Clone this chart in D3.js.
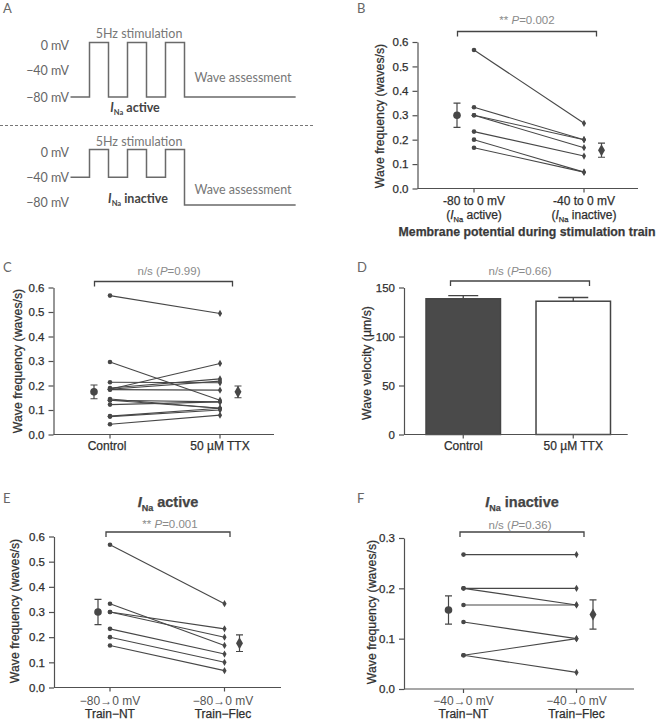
<!DOCTYPE html>
<html><head><meta charset="utf-8">
<script src="https://cdn.jsdelivr.net/npm/d3@7"></script>
<style>body{margin:0;background:#fff}</style>
</head><body>
<script>
// ---------- DATA ----------
// Panel A: voltage protocol (time steps, mV)
const protoTime = [0, 1, 2, 3, 4, 5, 6, 11.85];
const protoActive = [-80, 0, -80, 0, -80, 0, -80, -80];
const protoInactive = [-40, 0, -40, 0, -40, 0, -80, -80];
const protoLevels = [0, -40, -80];
const protoLevelLabels = ["0 mV", "\u221240 mV", "\u221280 mV"];

// Panel B
const B_before = [0.567, 0.333, 0.300, 0.300, 0.233, 0.200, 0.167];
const B_after  = [0.267, 0.200, 0.200, 0.167, 0.133, 0.067, 0.067];
const B_mean = [0.300, 0.157];
const B_sem  = [0.050, 0.029];

// Panel C
const C_control = [0.567, 0.296, 0.213, 0.185, 0.190, 0.185, 0.183, 0.145, 0.140, 0.140, 0.122, 0.075, 0.073, 0.042];
const C_ttx     = [0.494, 0.140, 0.211, 0.290, 0.227, 0.218, 0.181, 0.107, 0.107, 0.133, 0.133, 0.107, 0.100, 0.079];
const C_mean = [0.174, 0.174];
const C_sem  = [0.028, 0.024];

// Panel D
const D_categories = ["Control", "50 \u00b5M TTX"];
const D_mean = [138.5, 136.0];
const D_sem  = [3.3, 3.8];

// Panel E
const E_before = [0.567, 0.333, 0.300, 0.300, 0.233, 0.200, 0.167];
const E_after  = [0.333, 0.167, 0.233, 0.200, 0.133, 0.100, 0.067];
const E_mean = [0.300, 0.176];
const E_sem  = [0.050, 0.033];

// Panel F
const F_before = [0.267, 0.200, 0.200, 0.167, 0.133, 0.067, 0.067];
const F_after  = [0.267, 0.200, 0.167, 0.167, 0.100, 0.100, 0.033];
const F_mean = [0.157, 0.148];
const F_sem  = [0.028, 0.029];

const freqTicks6 = [0, 0.1, 0.2, 0.3, 0.4, 0.5, 0.6];
const freqTicks3 = [0, 0.1, 0.2, 0.3];
const velTicks = [0, 50, 100, 150];

// ---------- STYLE ----------
const FONT = "'Liberation Sans', Arial, sans-serif";
const AFONT = "Lato, 'Open Sans', sans-serif";
const INK = "#474747";
const AX = "#505050";
const TXT = "#2e2e2e";
const PGRAY = "#8a8a8a";
const TS = 0.25; // slight text stroke for weight

const svg = d3.select("body").append("svg").attr("width", 657).attr("height", 720)
  .style("font-family", FONT);

function heavy(sel, col) {
  return sel.attr("stroke", col).attr("stroke-width", TS);
}

function letter(t, x, y) {
  svg.append("text").attr("x", x).attr("y", y).text(t)
    .attr("font-family", AFONT).attr("font-size", 13).attr("fill", "#666");
}

// helper: text with I_Na
function inaText(sel, pre, post, size, sub) {
  if (pre) sel.append("tspan").text(pre);
  sel.append("tspan").text("I").attr("font-style", "italic");
  sel.append("tspan").text("Na").attr("font-size", sub).attr("dy", size * 0.25);
  sel.append("tspan").text(post).attr("dy", -size * 0.25);
}

function pText(g, x, y, parts) {
  const t = g.append("text").attr("x", x).attr("y", y).attr("text-anchor", "middle")
    .attr("font-size", 11.5).attr("fill", PGRAY);
  t.append("tspan").text(parts[0]);
  t.append("tspan").text("P").attr("font-style", "italic");
  t.append("tspan").text(parts[1]);
}

function bracket(g, x1, x2, yb) {
  g.append("path").attr("d", `M${x1},${yb + 5}V${yb}H${x2}V${yb + 5}`)
    .attr("fill", "none").attr("stroke", "#444").attr("stroke-width", 1.3);
}

function yAxis(g, y, ax, ticks, fmt) {
  const a = g.append("g").attr("transform", `translate(${ax},0)`)
    .call(d3.axisLeft(y).tickValues(ticks).tickFormat(fmt).tickSize(5).tickSizeOuter(0).tickPadding(4));
  a.selectAll("path,line").attr("stroke", AX).attr("stroke-width", 1.2);
  heavy(a.selectAll("text").attr("font-size", 11.5).attr("fill", TXT).attr("font-family", FONT), TXT);
  return a;
}

function yLabel(g, t, x, y) {
  heavy(g.append("text").attr("transform", `translate(${x},${y}) rotate(-90)`)
    .attr("text-anchor", "middle").attr("dominant-baseline", "central")
    .attr("font-size", 12.3).attr("fill", TXT).text(t), TXT);
}

function catLabel(g, x, y, t) {
  return heavy(g.append("text").attr("x", x).attr("y", y).attr("text-anchor", "middle")
    .attr("font-size", 12).attr("fill", TXT).text(t), TXT);
}

function paired(c) {
  const g = svg.append("g");
  const y = d3.scaleLinear().domain([0, c.yMax]).range([c.y0, c.y1]);
  const x = d3.scaleLinear().domain([0, 1]).range([c.cx0, c.cx1]);
  yAxis(g, y, c.ax, c.ticks, d3.format(".1f"));
  g.append("line").attr("x1", c.ax).attr("x2", c.axEnd).attr("y1", c.y0).attr("y2", c.y0)
    .attr("stroke", AX).attr("stroke-width", 1.2);
  [0, 1].forEach(k => g.append("line").attr("x1", x(k)).attr("x2", x(k)).attr("y1", c.y0).attr("y2", c.y0 + 4)
    .attr("stroke", AX).attr("stroke-width", 1.2));
  // paired lines
  g.selectAll("line.pair").data(c.before).enter().append("line").attr("class", "pair")
    .attr("x1", x(0)).attr("x2", x(1))
    .attr("y1", d => y(d)).attr("y2", (d, i) => y(c.after[i]))
    .attr("stroke", INK).attr("stroke-width", 1.1);
  g.selectAll("circle.pt").data(c.before).enter().append("circle").attr("class", "pt")
    .attr("cx", x(0)).attr("cy", d => y(d)).attr("r", 2.3).attr("fill", INK);
  const dia = d3.symbol().type(d3.symbolDiamond).size(15);
  g.selectAll("path.pt").data(c.after).enter().append("path").attr("class", "pt")
    .attr("transform", d => `translate(${x(1)},${y(d)})`).attr("d", dia).attr("fill", INK);
  // means
  const mx = [c.cx0 + c.mOff[0], c.cx1 + c.mOff[1]];
  c.mean.forEach((m, k) => {
    const lo = y(m - c.sem[k]), hi = y(m + c.sem[k]);
    g.append("path").attr("d", `M${mx[k] - 3.5},${hi}H${mx[k] + 3.5}M${mx[k]},${hi}V${lo}M${mx[k] - 3.5},${lo}H${mx[k] + 3.5}`)
      .attr("stroke", INK).attr("stroke-width", 1.2).attr("fill", "none");
    if (k === 0) g.append("circle").attr("cx", mx[k]).attr("cy", y(m)).attr("r", 3.8).attr("fill", INK);
    else g.append("path").attr("transform", `translate(${mx[k]},${y(m)})`)
      .attr("d", d3.symbol().type(d3.symbolDiamond).size(42)).attr("fill", INK);
  });
  return { g, x, y };
}

// ---------- PANEL A ----------
(function () {
  const g = svg.append("g");
  const t = d3.scaleLinear().domain([0, 1]).range([70.5, 89.5]);
  const draw = (vals, vScale) => {
    const pts = protoTime.map((tt, i) => [t(tt), vScale(vals[i])]);
    g.append("path").attr("d", d3.line().curve(d3.curveStepAfter)(pts))
      .attr("fill", "none").attr("stroke", "#6a6a6a").attr("stroke-width", 1.5);
  };
  const vTop = d3.scaleLinear().domain([0, -80]).range([42.5, 97]);
  const vBot = d3.scaleLinear().domain([0, -80]).range([149.5, 205]);
  draw(protoActive, vTop);
  draw(protoInactive, vBot);
  const lab = (vs, offs) => protoLevels.forEach((v, i) => {
    g.append("text").attr("x", 69).attr("y", vs(v) + offs[i]).attr("text-anchor", "end")
      .attr("dominant-baseline", "central").attr("font-family", AFONT).attr("font-size", 12.5)
      .attr("fill", "#666").text(protoLevelLabels[i]);
  });
  lab(vTop, [2.5, 1, 0]);
  lab(vBot, [2.5, 0, -3]);
  const at = (txt, x, y) => g.append("text").attr("x", x).attr("y", y).attr("text-anchor", "middle")
    .attr("font-family", AFONT).attr("font-size", 12.5).attr("fill", "#777").text(txt);
  at("5Hz stimulation", 139, 38);
  at("5Hz stimulation", 139, 146);
  at("Wave assessment", 243, 82);
  at("Wave assessment", 243, 194);
  const t1 = g.append("text").attr("x", 135).attr("y", 112).attr("text-anchor", "middle")
    .attr("font-family", AFONT).attr("font-size", 12.5).attr("font-weight", "bold").attr("fill", "#444");
  inaText(t1, null, " active", 12.5, 7.5);
  const t2 = g.append("text").attr("x", 138).attr("y", 203).attr("text-anchor", "middle")
    .attr("font-family", AFONT).attr("font-size", 12.5).attr("font-weight", "bold").attr("fill", "#444");
  inaText(t2, null, " inactive", 12.5, 7.5);
  g.append("line").attr("x1", 0).attr("x2", 313).attr("y1", 125.5).attr("y2", 125.5)
    .attr("stroke", "#777").attr("stroke-width", 1).attr("stroke-dasharray", "3,2");
})();
letter("A", 3, 13);

// ---------- PANEL B ----------
(function () {
  const p = paired({ ax: 417.5, axEnd: 638, y0: 188.5, y1: 42, yMax: 0.6, ticks: freqTicks6,
    cx0: 474, cx1: 584, mOff: [-17, 17.5], before: B_before, after: B_after, mean: B_mean, sem: B_sem });
  const g = p.g;
  yLabel(g, "Wave frequency (waves/s)", 380, 116);
  bracket(g, 457.5, 596.5, 31.5);
  pText(g, 527, 24, ["** ", "=0.002"]);
  catLabel(g, 474, 205, "-80 to 0 mV");
  catLabel(g, 584, 205, "-40 to 0 mV");
  inaText(catLabel(g, 474, 218.5, null), "(", " active)", 12, 7.5);
  inaText(catLabel(g, 584, 218.5, null), "(", " inactive)", 12, 7.5);
  heavy(g.append("text").attr("x", 527).attr("y", 236).attr("text-anchor", "middle")
    .attr("font-size", 12.3).attr("font-weight", "bold").attr("fill", "#3a3a3a")
    .text("Membrane potential during stimulation train"), "#3a3a3a");
})();
letter("B", 357, 13);

// ---------- PANEL C ----------
(function () {
  const p = paired({ ax: 53.5, axEnd: 274, y0: 434.5, y1: 287.5, yMax: 0.6, ticks: freqTicks6,
    cx0: 110, cx1: 220, mOff: [-16, 18], before: C_control, after: C_ttx, mean: C_mean, sem: C_sem });
  const g = p.g;
  yLabel(g, "Wave frequency (waves/s)", 18, 361);
  bracket(g, 94.5, 232.5, 281.5);
  pText(g, 169, 275, ["n/s (", "=0.99)"]);
  catLabel(g, 107, 450, "Control");
  catLabel(g, 220, 450, "50 \u00b5M TTX");
})();
letter("C", 3, 272);

// ---------- PANEL D ----------
(function () {
  const g = svg.append("g");
  const y = d3.scaleLinear().domain([0, 150]).range([434.5, 287.5]);
  const x = d3.scaleBand().domain(D_categories).range([404, 632.5]).paddingInner(0.323).paddingOuter(0.2);
  yAxis(g, y, 404, velTicks, d3.format("d"));
  g.selectAll("rect.bar").data(D_mean).enter().append("rect").attr("class", "bar")
    .attr("x", (d, i) => x(D_categories[i])).attr("width", x.bandwidth())
    .attr("y", d => y(d)).attr("height", d => y(0) - y(d))
    .attr("fill", (d, i) => i === 0 ? "#4a4a4a" : "#fff").attr("stroke", "#444").attr("stroke-width", 1.5);
  D_mean.forEach((m, i) => {
    const cx = x(D_categories[i]) + x.bandwidth() / 2;
    g.append("path").attr("d", `M${cx},${y(m)}V${y(m + D_sem[i])}M${cx - 15},${y(m + D_sem[i])}H${cx + 15}`)
      .attr("stroke", "#444").attr("stroke-width", 1.3);
    g.append("line").attr("x1", cx).attr("x2", cx).attr("y1", 434.5).attr("y2", 438.5)
      .attr("stroke", AX).attr("stroke-width", 1.2);
    catLabel(g, cx, 450, D_categories[i]);
  });
  g.append("line").attr("x1", 404).attr("x2", 627.7).attr("y1", 434.5).attr("y2", 434.5).attr("stroke", AX).attr("stroke-width", 1.2);
  yLabel(g, "Wave velocity (\u00b5m/s)", 367, 363);
  bracket(g, 450.5, 589.5, 281);
  pText(g, 520, 275, ["n/s (", "=0.66)"]);
})();
letter("D", 357, 272);

// ---------- PANEL E ----------
(function () {
  const p = paired({ ax: 54, axEnd: 281, y0: 687.5, y1: 536.5, yMax: 0.6, ticks: freqTicks6,
    cx0: 110, cx1: 224.5, mOff: [-12, 15], before: E_before, after: E_after, mean: E_mean, sem: E_sem });
  const g = p.g;
  yLabel(g, "Wave frequency (waves/s)", 15, 611);
  bracket(g, 106, 230, 532);
  pText(g, 170, 528, ["** ", "=0.001"]);
  const t = heavy(g.append("text").attr("x", 168).attr("y", 507).attr("text-anchor", "middle")
    .attr("font-size", 14.5).attr("font-weight", "bold").attr("fill", "#444"), "#444");
  inaText(t, null, " active", 14.5, 9);
  [[110, "\u221280\u21920 mV", "Train\u2212NT"], [223, "\u221280\u21920 mV", "Train\u2212Flec"]].forEach(d => {
    g.append("text").attr("x", d[0]).attr("y", 705).attr("text-anchor", "middle").attr("font-size", 12).attr("fill", "#555").text(d[1]);
    catLabel(g, d[0], 718, d[2]);
  });
})();
letter("E", 3, 503);

// ---------- PANEL F ----------
(function () {
  const p = paired({ ax: 404, axEnd: 634, y0: 689, y1: 538, yMax: 0.3, ticks: freqTicks3,
    cx0: 463.5, cx1: 576.5, mOff: [-15, 16.5], before: F_before, after: F_after, mean: F_mean, sem: F_sem });
  const g = p.g;
  yLabel(g, "Wave frequency (waves/s)", 371.5, 612);
  bracket(g, 460, 584, 532);
  pText(g, 520, 529, ["n/s (", "=0.36)"]);
  const t = heavy(g.append("text").attr("x", 522).attr("y", 507).attr("text-anchor", "middle")
    .attr("font-size", 14.5).attr("font-weight", "bold").attr("fill", "#444"), "#444");
  inaText(t, null, " inactive", 14.5, 9);
  [[463.5, "\u221240\u21920 mV", "Train\u2212NT"], [576.5, "\u221240\u21920 mV", "Train\u2212Flec"]].forEach(d => {
    g.append("text").attr("x", d[0]).attr("y", 705).attr("text-anchor", "middle").attr("font-size", 12).attr("fill", "#555").text(d[1]);
    catLabel(g, d[0], 718, d[2]);
  });
})();
letter("F", 357, 503);
</script>
</body></html>
